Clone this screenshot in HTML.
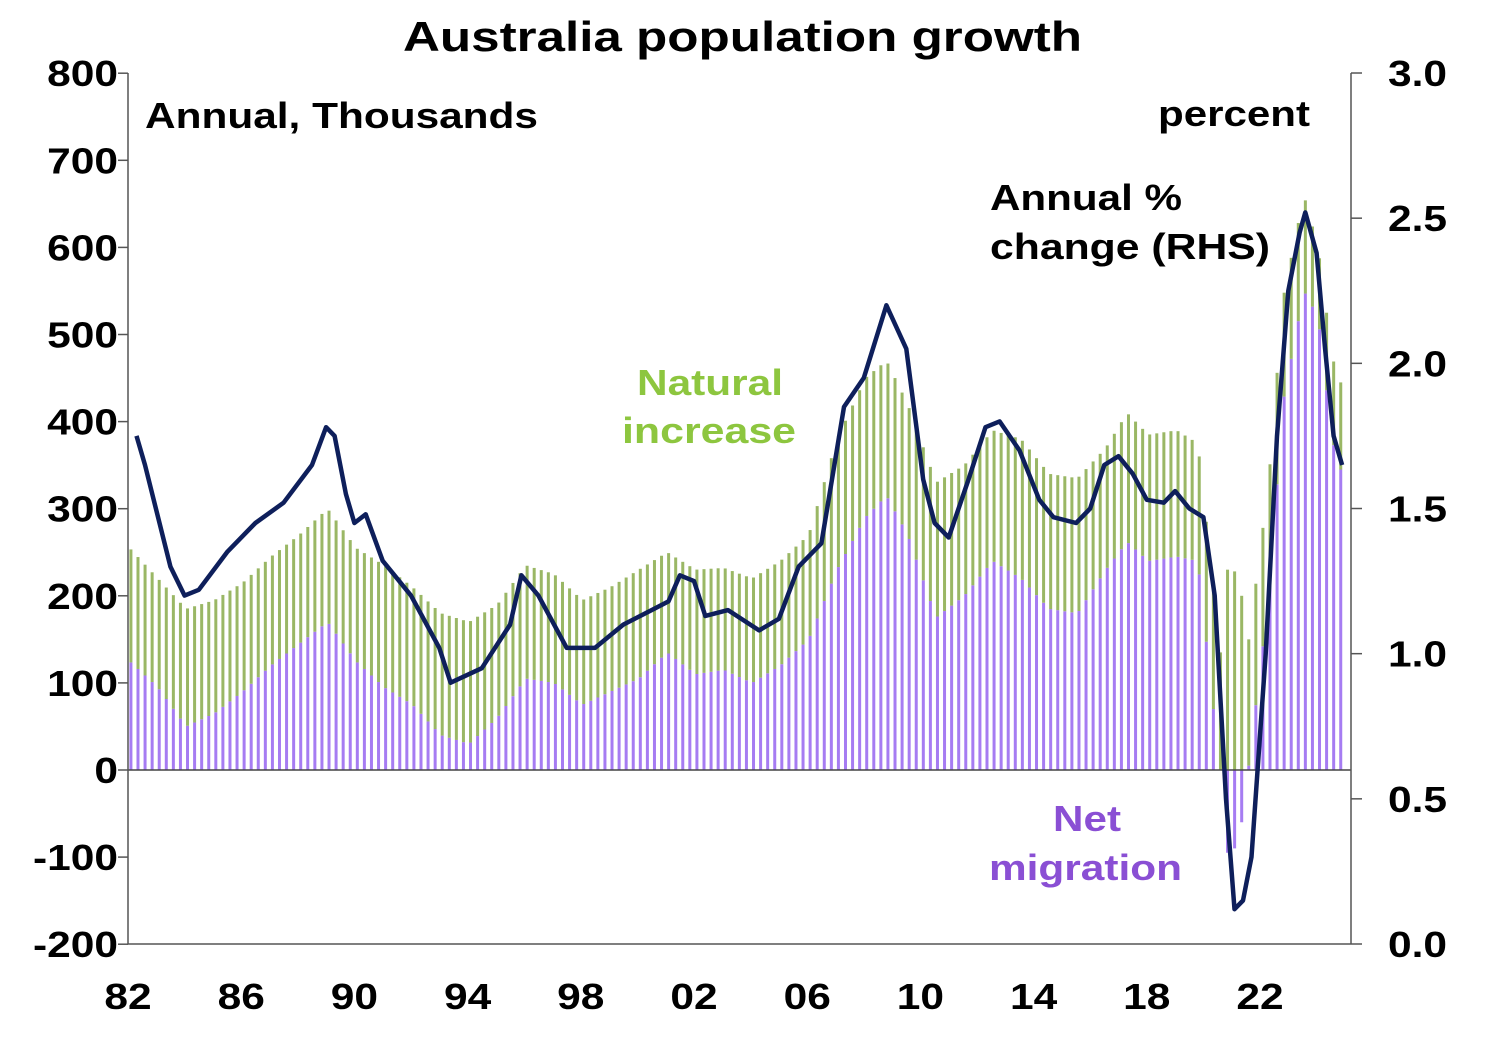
<!DOCTYPE html>
<html><head><meta charset="utf-8"><style>
body{margin:0;background:#fff;}
svg text{font-family:"Liberation Sans",Arial,sans-serif;font-weight:bold;}
</style></head><body>
<svg id="s" width="1495" height="1035" viewBox="0 0 1495 1035" xmlns="http://www.w3.org/2000/svg">
<g id="bars"></g>
<line x1="128" y1="770" x2="1351" y2="770" stroke="#444" stroke-width="1.5"/>
<line x1="128" y1="73" x2="128" y2="944" stroke="#555" stroke-width="1.5"/>
<line x1="1351" y1="73" x2="1351" y2="944" stroke="#555" stroke-width="1.5"/>
<line x1="128" y1="944" x2="1351" y2="944" stroke="#555" stroke-width="1.5"/>
<g id="ticks" stroke="#555" stroke-width="1.5"></g>
<path id="line" fill="none" stroke="#0E1F5B" stroke-width="4.5" stroke-linejoin="round"/>
<g font-size="36" fill="#000" lengthAdjust="spacingAndGlyphs">
<text x="403" y="51" font-size="42" textLength="679" lengthAdjust="spacingAndGlyphs">Australia population growth</text>
<text x="145" y="128" textLength="393" lengthAdjust="spacingAndGlyphs">Annual, Thousands</text>
<text x="1158" y="126" textLength="152" lengthAdjust="spacingAndGlyphs">percent</text>
<text x="990" y="210" textLength="192" lengthAdjust="spacingAndGlyphs">Annual %</text>
<text x="990" y="259" textLength="280" lengthAdjust="spacingAndGlyphs">change (RHS)</text>
<text x="637" y="395" fill="#8DC63F" textLength="146" lengthAdjust="spacingAndGlyphs">Natural</text>
<text x="622" y="443" fill="#8DC63F" textLength="174" lengthAdjust="spacingAndGlyphs">increase</text>
<text x="1053" y="831" fill="#8A4FD4" textLength="68" lengthAdjust="spacingAndGlyphs">Net</text>
<text x="989" y="880" fill="#8A4FD4" textLength="193" lengthAdjust="spacingAndGlyphs">migration</text>
</g>
<g id="labels" font-size="36" fill="#000"></g>
</svg>
<script>
var NS="http://www.w3.org/2000/svg";
function el(t,a,p,txt){var e=document.createElementNS(NS,t);for(var k in a)e.setAttribute(k,a[k]);if(txt!==undefined)e.textContent=txt;document.getElementById(p).appendChild(e);return e;}
function X(y){return 128+(y-1982)*28.3;}
function YL(v){return 770-v*0.871;}
function YR(p){return 944-p*290.33;}
function lbl(x,y,anchor,s){el('text',{transform:'translate('+x+','+y+') scale(1.18,1)','text-anchor':anchor},'labels',s);}
for(var v=-200;v<=800;v+=100){lbl(118,YL(v)+13,'end',String(v));el('line',{x1:118,y1:YL(v),x2:128,y2:YL(v)},'ticks');}
for(var p=0;p<=3.001;p+=0.5){lbl(1388,YR(p)+13,'start',p.toFixed(1));el('line',{x1:1351,y1:YR(p),x2:1362,y2:YR(p)},'ticks');}
var yl=['82','86','90','94','98','02','06','10','14','18','22'];
for(var i=0;i<yl.length;i++){lbl(X(1982+4*i),1009,'middle',yl[i]);}
var K=[[1982,255,125],[1983,220,95],[1984,185,50],[1985,195,65],[1986,215,90],[1987,245,120],[1988,270,145],[1989,300,170],[1990,255,125],[1991,235,95],[1992,210,75],[1993,180,40],[1994,170,30],[1995,190,60],[1996,235,105],[1997,225,100],[1998,195,75],[1999,210,90],[2000,230,105],[2001,250,135],[2002,230,110],[2003,232,115],[2004,220,100],[2005,240,120],[2006,270,150],[2007,380,230],[2008,450,290],[2008.75,470,315],[2009.5,420,270],[2010.5,330,175],[2011.5,350,200],[2012.5,390,240],[2013.5,380,220],[2014.5,340,185],[2015.5,335,180],[2016.5,370,230],[2017.25,410,262],[2018,385,240],[2019,390,245],[2019.75,375,240],[2020.3,210,70],[2020.55,135,0],[2020.8,135,-95],[2021.05,138,-90],[2021.3,140,-60],[2021.55,150,5],[2022,265,130],[2022.25,330,190],[2022.75,540,420],[2023.5,660,550],[2024.0,600,520],[2024.5,475,380],[2024.75,445,345]];
function interp(arr,y,idx){if(y<=arr[0][0])return arr[0][idx];for(var i=1;i<arr.length;i++){if(y<=arr[i][0]){var a=arr[i-1],b=arr[i],t=(y-a[0])/(b[0]-a[0]);return a[idx]+t*(b[idx]-a[idx]);}}return arr[arr.length-1][idx];}
for(var q=0;q<172;q++){var yr=1982+q*0.25+0.05;if(yr>2024.8)break;var tot=interp(K,yr,1),mig=interp(K,yr,2);var nat=tot-mig;if(mig<0)nat=Math.max(nat,130);
var base=Math.max(mig,0);var x=X(yr);
if(mig>0)el('rect',{x:x,y:YL(mig),width:3,height:mig*0.871,fill:'#A67CF2'},'bars');else el('rect',{x:x,y:770,width:3,height:-mig*0.871,fill:'#A67CF2'},'bars');
el('rect',{x:x,y:YL(base+nat),width:3,height:nat*0.871,fill:'#9AB765'},'bars');}
var G=[[1982.3,1.75],[1982.6,1.65],[1983.5,1.3],[1984,1.2],[1984.5,1.22],[1985.5,1.35],[1986.5,1.45],[1987.5,1.52],[1988.5,1.65],[1989.0,1.78],[1989.3,1.75],[1989.7,1.55],[1990.0,1.45],[1990.4,1.48],[1991,1.32],[1992,1.2],[1993,1.02],[1993.4,0.9],[1994.5,0.95],[1995.5,1.1],[1995.9,1.27],[1996.5,1.2],[1997.5,1.02],[1998.5,1.02],[1999.5,1.1],[2000.5,1.15],[2001.1,1.18],[2001.5,1.27],[2002,1.25],[2002.4,1.13],[2003.2,1.15],[2004.3,1.08],[2005,1.12],[2005.7,1.3],[2006.5,1.38],[2007.3,1.85],[2008,1.95],[2008.8,2.2],[2009.5,2.05],[2010.1,1.6],[2010.5,1.45],[2011,1.4],[2011.7,1.6],[2012.3,1.78],[2012.8,1.8],[2013.5,1.7],[2014.2,1.53],[2014.7,1.47],[2015.5,1.45],[2016,1.5],[2016.5,1.65],[2017,1.68],[2017.5,1.62],[2018,1.53],[2018.6,1.52],[2019,1.56],[2019.5,1.5],[2020,1.47],[2020.4,1.2],[2020.8,0.5],[2021.1,0.12],[2021.4,0.15],[2021.7,0.3],[2022.2,1.0],[2022.6,1.75],[2023.0,2.25],[2023.4,2.45],[2023.6,2.52],[2024.0,2.38],[2024.3,2.05],[2024.6,1.75],[2024.9,1.65]];
var d='';for(var i=0;i<G.length;i++){d+=(i?'L':'M')+X(G[i][0]).toFixed(1)+','+YR(G[i][1]).toFixed(1);}
document.getElementById('line').setAttribute('d',d);
</script>
</body></html>
